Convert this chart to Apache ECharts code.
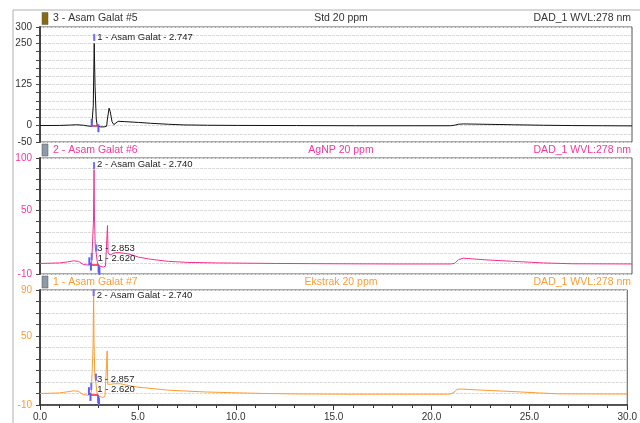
<!DOCTYPE html>
<html>
<head>
<meta charset="utf-8">
<script src="https://cdn.jsdelivr.net/npm/echarts@6/dist/echarts.min.js"></script>
<style>
  html, body { margin: 0; padding: 0; background: #fff; }
  #chart { width: 640px; height: 423px; }
</style>
</head>
<body>
<div id="chart"></div>
<script>
// retention time (min) vs absorbance (mAU), DAD_1 WVL:278 nm
const timeRange = [0, 30];

const stdTrace = [
  [0, 0], [1.0, 0.5], [1.5, 1.5], [1.86, 2.5], [2.2, 1], [2.5, -2], [2.62, -2.5],
  [2.66, 2], [2.70, 60], [2.747, 250], [2.79, 120], [2.85, 20], [2.90, 0], [2.95, -3],
  [3.05, -4], [3.25, -4], [3.38, -2], [3.41, 17], [3.46, 22], [3.50, 53], [3.56, 42],
  [3.65, 12], [3.74, 3], [3.84, 9], [3.96, 13], [4.3, 12], [5.0, 9.5], [5.6, 7],
  [6.5, 4], [7.3, 2], [8.5, 1], [10, 0.5], [13, 0], [16, -0.5], [19, -0.5],
  [20.8, -0.5], [21.0, 1], [21.2, 4], [21.45, 5], [22.5, 4], [24, 2.5], [25.5, 1],
  [27, 0], [28.5, -0.5], [30, -1]
];

const agnpTrace = [
  [0, 0], [1.0, 0.5], [1.4, 1.5], [1.7, 2.5], [1.95, 2], [2.2, -1], [2.45, -1.5],
  [2.55, -0.5], [2.62, 1], [2.68, 0], [2.71, 40], [2.74, 89], [2.76, 45], [2.80, 16],
  [2.853, 9], [2.90, 2], [2.95, -2], [3.05, -3], [3.2, -3.5], [3.32, -2.5], [3.40, -1],
  [3.42, 36], [3.45, 10], [3.55, 8], [3.75, 10], [4.0, 10.3], [4.5, 9], [5.0, 6],
  [5.6, 4], [6.5, 2], [7.5, 1], [9, 0.5], [12, 0], [15, -0.3], [18, -0.5],
  [20.8, -0.5], [21.0, 0], [21.2, 3.5], [21.45, 5], [22.5, 3.5], [24, 2], [25.5, 0.5],
  [27, -0.3], [30, -0.5]
];

const ekstrakTrace = [
  [0, 0], [1.0, 0.5], [1.4, 1.5], [1.7, 2.3], [1.95, 2], [2.2, -1], [2.45, -1.5],
  [2.55, -0.5], [2.62, 1], [2.68, 0], [2.71, 40], [2.74, 89.5], [2.76, 45], [2.80, 16],
  [2.857, 9], [2.90, 2], [2.95, -2], [3.05, -3], [3.2, -3.5], [3.32, -2.5], [3.40, -1],
  [3.43, 37], [3.46, 8], [3.6, 8], [3.8, 8.5], [4.1, 8.5], [4.5, 7], [5.0, 5.5],
  [5.6, 4.5], [6.5, 3], [7.1, 2.4], [8.5, 1.3], [9.8, 0.7], [11.5, 0], [13.2, -0.4],
  [16, -0.6], [18, -0.6], [20.9, -0.6], [21.1, 0.5], [21.3, 3.5], [21.45, 3.9],
  [22.5, 3], [24, 1.8], [25.5, 0.5], [26.5, -0.3], [30, -0.5]
];

// peaks: [retention time, apex height, label]
const stdPeaks = [[2.747, 250, '1 - Asam Galat - 2.747']];
const agnpPeaks = [[2.740, 89, '2 - Asam Galat - 2.740'], [2.853, 9, '3 - 2.853'], [2.620, 1, '1 - 2.620']];
const ekstrakPeaks = [[2.740, 89.5, '2 - Asam Galat - 2.740'], [2.857, 9, '3 - 2.857'], [2.620, 1, '1 - 2.620']];

// integration delimiters: [time, value]
const stdDelims = [[2.62, 8], [2.96, -8]];
const agnpDelims = [[2.50, 2], [2.58, -3], [2.97, -5], [3.01, -7]];
const ekstrakDelims = [[2.50, 2], [2.58, -3], [2.97, -5], [3.01, -7]];

// baselines: [start, end, value]
const stdBase = [2.65, 2.95, 0];
const agnpBase = [2.58, 2.98, -1];
const ekstrakBase = [2.58, 2.98, -1];

// y tick labels shown
const stdYLabels = [300, 250, 125, 0, -50];
const agnpYLabels = [100, 50, -10];
const ekstrakYLabels = [90, 50, -10];

const FONT = '"Liberation Sans", Arial, sans-serif';

const panels = [
  { name: '3 - Asam Galat #5', sample: 'Std 20 ppm', color: '#111111', text: '#333333',
    trace: stdTrace, peaks: stdPeaks, delims: stdDelims, base: stdBase, yLabels: stdYLabels,
    min: -50, max: 300, step: 25, top: 27, height: 115, headY: 18.5, icon: '#8a6a10',
    tick: [-6], shift: [[0, 0]] },
  { name: '2 - Asam Galat #6', sample: 'AgNP 20 ppm', color: '#f5308f', text: '#ff3399',
    trace: agnpTrace, peaks: agnpPeaks, delims: agnpDelims, base: agnpBase, yLabels: agnpYLabels,
    min: -10, max: 100, step: 10, top: 158, height: 116, headY: 150, icon: '#8f9aa8',
    tick: [-4, -6, -6], shift: [[0, -1], [-2, 0], [3, 2]] },
  { name: '1 - Asam Galat #7', sample: 'Ekstrak 20 ppm', color: '#ff9a30', text: '#ff9c33',
    trace: ekstrakTrace, peaks: ekstrakPeaks, delims: ekstrakDelims, base: ekstrakBase, yLabels: ekstrakYLabels,
    min: -10, max: 90, step: 10, top: 290, height: 115, headY: 282, icon: '#8f9aa8',
    tick: [2, -6, -6], shift: [[0, 3], [-2, 2], [3, 3]] }
];

const chart = echarts.init(document.getElementById('chart'));

const grids = [], xAxes = [], yAxes = [], series = [], graphics = [];

// outer frame
graphics.push({ type: 'line', shape: { x1: 13, y1: 10, x2: 640, y2: 10 }, style: { stroke: '#b0b0b0', lineWidth: 1 } });
graphics.push({ type: 'line', shape: { x1: 13, y1: 10, x2: 13, y2: 423 }, style: { stroke: '#b0b0b0', lineWidth: 1 } });

panels.forEach((p, i) => {
  const last = i === panels.length - 1;
  grids.push({ left: 40, width: 592, top: p.top, height: p.height, show: true,
    borderColor: '#555', borderWidth: 1, backgroundColor: 'transparent' });

  xAxes.push({
    gridIndex: i, type: 'value', min: timeRange[0], max: timeRange[1], interval: 5,
    axisLine: { show: last, onZero: false, lineStyle: { color: '#333', width: 1.5 } },
    axisTick: { show: last, length: 5, lineStyle: { color: '#333' } },
    minorTick: { show: last, splitNumber: 5, length: 3, lineStyle: { color: '#333' } },
    axisLabel: { show: last, margin: 7, color: '#333', fontSize: 10, fontFamily: FONT,
      formatter: v => v.toFixed(1) },
    splitLine: { show: false }
  });

  yAxes.push({
    gridIndex: i, type: 'value', min: p.min, max: p.max, interval: p.step,
    axisLine: { show: true, onZero: false, lineStyle: { color: '#444', width: 2 } },
    axisTick: { show: true, length: 4, lineStyle: { color: '#444' } },
    axisLabel: { margin: 8, color: p.text, fontSize: 10, fontFamily: FONT,
      formatter: v => (p.yLabels.includes(v) ? String(v) : '') },
    splitLine: { show: true, lineStyle: { color: '#dadada', width: 1, type: [3, 1] } }
  });

  const marks = p.peaks.map((pk, k) => ({
    coord: [pk[0], pk[1]], name: pk[2],
    symbol: 'rect', symbolSize: [2, 7], symbolOffset: [0, p.tick[k]],
    itemStyle: { color: '#6f6fff' },
    label: { show: true, position: 'right', distance: 2, formatter: pk[2],
      offset: p.shift[k], color: '#222', fontSize: 9.5, fontFamily: FONT }
  }));
  p.delims.forEach(d => marks.push({
    coord: d, symbol: 'rect', symbolSize: [2, 8],
    itemStyle: { color: '#5a5aff' }, label: { show: false }
  }));

  series.push({
    type: 'line', xAxisIndex: i, yAxisIndex: i, data: p.trace,
    showSymbol: false, smooth: false, animation: false,
    lineStyle: { color: p.color, width: 1 }, itemStyle: { color: p.color },
    markPoint: { animation: false, data: marks },
    markLine: { animation: false, symbol: 'none', silent: true,
      lineStyle: { color: '#ff2020', width: 1.5, type: 'solid' }, label: { show: false },
      data: [[{ coord: [p.base[0], p.base[2]] }, { coord: [p.base[1], p.base[2]] }]] }
  });

  // header row
  graphics.push({ type: 'rect', shape: { x: 42, y: p.headY - 6, width: 6, height: 12 },
    style: { fill: p.icon, stroke: '#555', lineWidth: 0.5 } });
  graphics.push({ type: 'text', x: 53, y: p.headY,
    style: { text: p.name, fill: p.text, font: '10.5px ' + FONT, textVerticalAlign: 'middle' } });
  graphics.push({ type: 'text', x: 341, y: p.headY,
    style: { text: p.sample, fill: p.text, font: '10.5px ' + FONT, textAlign: 'center', textVerticalAlign: 'middle' } });
  graphics.push({ type: 'text', x: 631, y: p.headY,
    style: { text: 'DAD_1 WVL:278 nm', fill: p.text, font: '10.5px ' + FONT, textAlign: 'right', textVerticalAlign: 'middle' } });
});

chart.setOption({
  animation: false,
  grid: grids,
  xAxis: xAxes,
  yAxis: yAxes,
  series: series,
  graphic: graphics
});
</script>
</body>
</html>
